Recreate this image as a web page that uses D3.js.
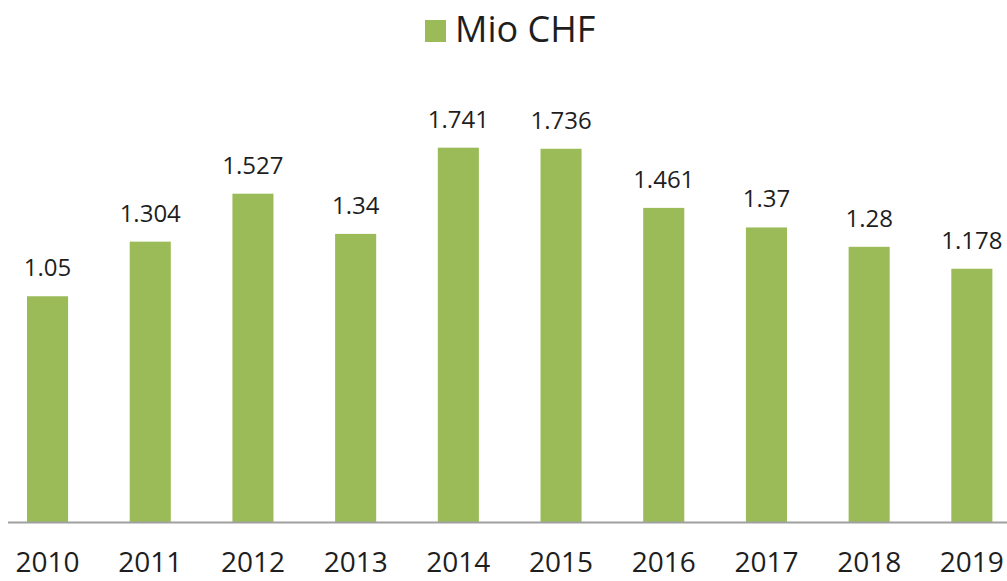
<!DOCTYPE html>
<html>
<head>
<meta charset="utf-8">
<script src="https://cdn.jsdelivr.net/npm/d3@7"></script>
<style>
  body { margin: 0; background: #fff; }
  text { font-family: "Open Sans", sans-serif; fill: #1e1e1e; }
</style>
</head>
<body>
<div id="chart"></div>
<script>
// Data
var years = ["2010", "2011", "2012", "2013", "2014", "2015", "2016", "2017", "2018", "2019"];
var values = [1.05, 1.304, 1.527, 1.34, 1.741, 1.736, 1.461, 1.37, 1.28, 1.178];
var labels = ["1.05", "1.304", "1.527", "1.34", "1.741", "1.736", "1.461", "1.37", "1.28", "1.178"];
var seriesName = "Mio CHF";

var width = 1007, height = 581;
var barColor = "#9bbb59";

var svg = d3.select("#chart")
  .append("svg")
    .attr("width", width)
    .attr("height", height);

// Scales
var x = d3.scaleBand()
    .domain(years)
    .range([-3.8, 1023.2])
    .paddingInner(0.6)
    .paddingOuter(0.3);

var y = d3.scaleLinear()
    .domain([0, 2])
    .range([522, 92]);

// Bars
svg.selectAll("rect.bar")
  .data(values)
  .enter().append("rect")
    .attr("class", "bar")
    .attr("x", (d, i) => x(years[i]))
    .attr("y", d => y(d))
    .attr("width", x.bandwidth())
    .attr("height", d => y(0) - y(d))
    .attr("fill", barColor);

// Value labels
svg.selectAll("text.val")
  .data(values)
  .enter().append("text")
    .attr("class", "val")
    .attr("x", (d, i) => x(years[i]) + x.bandwidth() / 2)
    .attr("y", d => y(d) - 20)
    .attr("text-anchor", "middle")
    .style("font-size", "24px")
    .text((d, i) => labels[i]);

// X axis
var xAxis = svg.append("g")
    .attr("transform", "translate(0," + y(0) + ")")
    .call(d3.axisBottom(x).tickSize(0));
xAxis.select(".domain")
    .attr("d", "M8,0.5H1007")
    .attr("stroke", "#a0a0a0")
    .attr("stroke-width", 2);
xAxis.selectAll(".tick text")
    .attr("y", 50)
    .attr("dy", null)
    .style("font-family", "'Open Sans', sans-serif")
    .style("font-size", "28px")
    .attr("fill", "#1e1e1e");

// Legend
var legend = svg.append("g");
legend.append("rect")
    .attr("x", 425)
    .attr("y", 20)
    .attr("width", 21)
    .attr("height", 22)
    .attr("fill", barColor);
legend.append("text")
    .attr("x", 455)
    .attr("y", 42)
    .style("font-size", "36px")
    .text(seriesName);
</script>
</body>
</html>
